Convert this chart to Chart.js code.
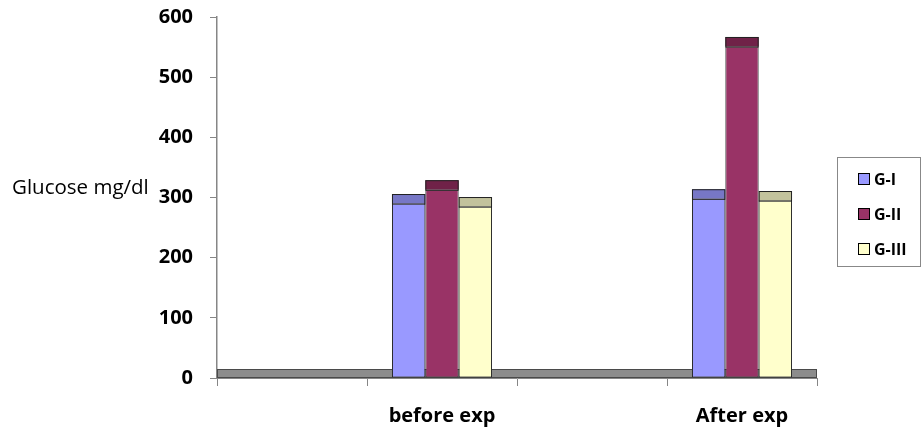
<!DOCTYPE html>
<html><head><meta charset="utf-8">
<script src="https://cdn.jsdelivr.net/npm/chart.js@4.4.0/dist/chart.umd.min.js"></script>
<style>
html,body{margin:0;padding:0;background:#fff;}
#wrap{position:relative;width:922px;height:430px;}
#legend{position:absolute;left:837px;top:157px;width:84px;height:110px;border:1px solid #888;box-sizing:border-box;font:bold 16px 'Open Sans',sans-serif;color:#000;}
.item{position:absolute;left:20px;height:22px;display:flex;align-items:center;}
.sw{width:10px;height:10px;border:1px solid #000;margin-right:4px;}
</style></head><body>
<div id="wrap"><canvas id="c" width="922" height="430" style="width:922px;height:430px"></canvas><div id="legend"></div></div>
<script>
const categories = ['', 'before exp', '', 'After exp'];
const seriesNames = ['G-I', 'G-II', 'G-III'];
const gI   = [null, 290, null, 298];
const gII  = [null, 313, null, 551];
const gIII = [null, 285, null, 295];
const yTicks = [0, 100, 200, 300, 400, 500, 600];
const yTitle = 'Glucose mg/dl';

const fills = ['#9999FF', '#993366', '#FFFFCC'];
const caps  = ['#7777C6', '#702248', '#C2C29C'];
const seriesValues = [gI, gII, gIII];

const floorPlugin = {
  id: 'floor',
  beforeDatasetsDraw(chart) {
    const {ctx, chartArea} = chart;
    ctx.save();
    ctx.fillStyle = '#8c8c8c';
    ctx.fillRect(chartArea.left, chartArea.bottom - 9, chartArea.right - chartArea.left, 9);
    ctx.strokeStyle = '#4a4a4a';
    ctx.lineWidth = 1;
    ctx.strokeRect(chartArea.left + 0.5, chartArea.bottom - 8.5, chartArea.right - chartArea.left - 1, 8);
    ctx.restore();
  }
};

const capPlugin = {
  id: 'caps',
  afterDatasetsDraw(chart) {
    const ctx = chart.ctx;
    chart.data.datasets.forEach((ds, di) => {
      const meta = chart.getDatasetMeta(di);
      meta.data.forEach((el, i) => {
        if (ds.data[i] == null) return;
        const p = el.getProps(['x', 'y', 'width'], true);
        const d = 9.5;
        ctx.save();
        ctx.fillStyle = ds.capColor;
        ctx.fillRect(p.x - p.width / 2, p.y - d, p.width, d);
        ctx.strokeStyle = '#222';
        ctx.lineWidth = 1;
        ctx.strokeRect(p.x - p.width / 2 + 0.5, p.y - d + 0.5, p.width - 1, d);
        ctx.restore();
      });
    });
  }
};

const titlePlugin = {
  id: 'ytitle',
  afterDraw(chart) {
    const ctx = chart.ctx;
    ctx.save();
    ctx.font = '20.5px "Open Sans"';
    ctx.fillStyle = '#000';
    ctx.textBaseline = 'middle';
    ctx.textAlign = 'left';
    ctx.fillText(yTitle, 12, 188);
    ctx.restore();
  }
};

const tickFont = {family: 'Open Sans', size: 20, weight: 'bold'};

new Chart(document.getElementById('c'), {
  type: 'bar',
  data: {
    labels: categories,
    datasets: seriesNames.map((n, i) => ({
      label: n,
      data: seriesValues[i],
      backgroundColor: fills[i],
      capColor: caps[i],
      borderColor: '#2a2a2a',
      borderWidth: 1,
      borderSkipped: false,
      categoryPercentage: 0.667,
      barPercentage: 1.0
    }))
  },
  options: {
    responsive: false,
    animation: false,
    layout: {padding: {top: 17, right: 105, bottom: 0, left: 0}},
    plugins: {legend: {display: false}, tooltip: {enabled: false}},
    scales: {
      x: {
        offset: true,
        grid: {display: true, drawOnChartArea: false, drawTicks: true, tickLength: 8, offset: true, color: '#868686'},
        border: {display: true, color: '#868686'},
        ticks: {font: tickFont, color: '#000', padding: 18, maxRotation: 0, autoSkip: false},
        afterFit(s) { s.height = 52; s.paddingLeft = 0; s.paddingRight = 0; }
      },
      y: {
        min: 0, max: 600,
        afterBuildTicks(s) { s.ticks = yTicks.map(v => ({value: v})); },
        grid: {drawOnChartArea: false, tickLength: 7, color: '#868686'},
        border: {display: true, color: '#868686', width: 1.5},
        ticks: {font: tickFont, color: '#000', padding: 17},
        afterFit(s) { s.width = 217; s.paddingTop = 0; s.paddingBottom = 0; }
      }
    }
  },
  plugins: [floorPlugin, capPlugin, titlePlugin]
});

const lg = document.getElementById('legend');
const rowsY = [10, 45, 80];
seriesNames.forEach((n, i) => {
  const it = document.createElement('div');
  it.className = 'item';
  it.style.top = rowsY[i] + 'px';
  it.innerHTML = '<span class="sw" style="background:' + fills[i] + '"></span><span>' + n + '</span>';
  lg.appendChild(it);
});
</script>
</body></html>
